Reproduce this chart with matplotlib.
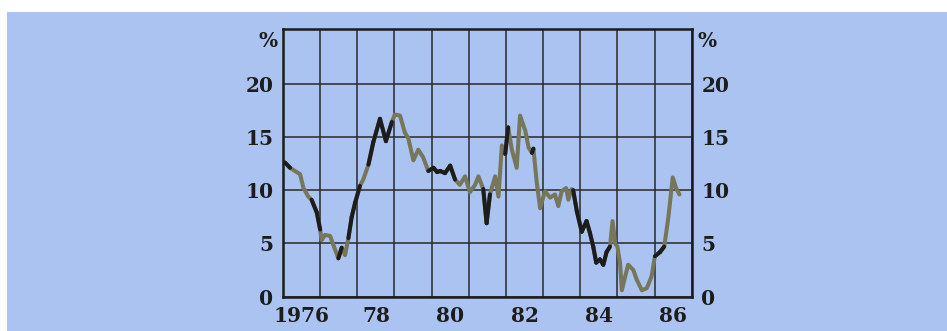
import numpy as np
import matplotlib
matplotlib.use("Agg")
import matplotlib.pyplot as plt
from matplotlib.collections import LineCollection
from matplotlib.patches import Rectangle

# readings (decimal year, percent)
years = [76.05, 76.19, 76.32, 76.46, 76.55, 76.68, 76.77, 76.91, 77.00, 77.04,
         77.13, 77.27, 77.35, 77.49, 77.58, 77.67, 77.76, 77.85, 77.94, 78.07,
         78.16, 78.30, 78.43, 78.61, 78.77, 78.93, 79.01, 79.15, 79.28, 79.37,
         79.51, 79.64, 79.77, 79.91, 80.05, 80.15, 80.23, 80.36, 80.50, 80.63,
         80.76, 80.90, 81.03, 81.17, 81.26, 81.39, 81.48, 81.57, 81.71, 81.80,
         81.89, 81.98, 82.06, 82.16, 82.29, 82.38, 82.52, 82.61, 82.70, 82.74,
         82.83, 82.92, 83.05, 83.19, 83.32, 83.41, 83.50, 83.62, 83.68, 83.77,
         83.81, 83.91, 84.04, 84.17, 84.26, 84.35, 84.43, 84.53, 84.62, 84.71,
         84.80, 84.87, 84.94, 85.00, 85.07, 85.12, 85.21, 85.29, 85.43, 85.52,
         85.66, 85.79, 85.92, 86.01, 86.15, 86.26, 86.37, 86.49, 86.58, 86.67]
values = [12.6, 12.1, 11.8, 11.5, 10.2, 9.4, 9.1, 7.9, 6.3, 5.3,
          5.8, 5.7, 4.9, 3.6, 4.6, 3.9, 5.5, 7.5, 8.8, 10.4,
          11.0, 12.4, 14.5, 16.7, 14.6, 16.4, 17.1, 17.0, 15.4, 14.9,
          12.8, 13.8, 13.1, 11.8, 12.1, 11.7, 11.8, 11.6, 12.3, 11.0,
          10.5, 11.3, 9.8, 10.5, 11.3, 10.1, 6.9, 9.6, 11.3, 9.4,
          14.2, 13.4, 15.9, 13.8, 12.1, 17.0, 15.6, 14.0, 13.5, 13.9,
          10.7, 8.3, 9.9, 9.3, 9.6, 8.5, 9.9, 10.2, 9.1, 10.1,
          10.0, 8.0, 6.1, 7.1, 6.0, 4.7, 3.2, 3.5, 3.0, 4.2,
          4.7, 7.1, 5.0, 4.7, 3.2, 0.6, 1.9, 3.0, 2.5, 1.6,
          0.6, 0.8, 1.9, 3.8, 4.2, 4.7, 7.4, 11.2, 10.2, 9.6]

# stretches where the printed line is black rather than olive
black_spans = [(76.0, 76.25), (76.8, 77.02), (77.45, 77.55), (77.75, 78.08),
               (78.25, 78.92), (79.88, 80.6), (81.42, 81.55), (81.97, 82.1),
               (82.68, 82.76), (82.88, 82.95), (83.83, 84.82), (85.98, 86.22),
               (86.46, 86.52)]

grid_years = list(range(76, 88))
label_years = [76, 78, 80, 82, 84, 86]
label_text = ["1976", "78", "80", "82", "84", "86"]
y_ticks = [0, 5, 10, 15, 20]

bg = "#aac3f0"
ink = "#1c1c1c"
olive = "#76765a"

fig = plt.figure(figsize=(9.47, 3.31), dpi=100, facecolor="white")
fig.patches.append(Rectangle((7 / 947, 0), 1, 1 - 12 / 331, transform=fig.transFigure,
                             facecolor=bg, edgecolor="none", zorder=-10))
ax = fig.add_axes([283 / 947, 34.3 / 331, 408.7 / 947, 267.4 / 331])
ax.set_zorder(1)
ax.set_facecolor("none")

x = np.array(years)
y = np.array(values)
ax.plot(x, y, color=olive, lw=2.9, solid_joinstyle="round", solid_capstyle="round", zorder=3)

segs = []
for i in range(len(x) - 1):
    mid = (x[i] + x[i + 1]) / 2
    for a, b in black_spans:
        if a <= mid <= b:
            segs.append([(x[i], y[i]), (x[i + 1], y[i + 1])])
            break
lc = LineCollection(segs, colors=ink, linewidths=2.9, capstyle="round", joinstyle="round", zorder=4)
ax.add_collection(lc)

ax.set_xlim(76, 87)
ax.set_ylim(0, 25.1)
ax.set_xticks(grid_years)
ax.set_xticklabels([])
ax.set_xticks([v + 0.5 for v in label_years], minor=True)
ax.set_xticklabels(label_text, minor=True)
ax.set_yticks(y_ticks)
ax.grid(True, which="major", color="#2a2a2a", lw=1.1)
ax.tick_params(which="both", length=0)
ax.tick_params(axis="x", which="minor", pad=7)
ax.tick_params(axis="y", labelright=True, pad=7)

font = dict(family="DejaVu Serif", weight="bold", size=14.5, color=ink)
for lab in ax.get_xticklabels(minor=True):
    lab.set(**font)
for tk in ax.yaxis.get_major_ticks():
    tk.label1.set(**font)
    tk.label2.set(**font)

ax.text(-0.036, 0.955, "%", transform=ax.transAxes, ha="center", va="center", **font)
ax.text(1.037, 0.955, "%", transform=ax.transAxes, ha="center", va="center", **font)

for s in ax.spines.values():
    s.set_color(ink)
    s.set_linewidth(1.8)
    s.set_zorder(5)

fig.savefig("out.png", dpi=100, facecolor="white")
